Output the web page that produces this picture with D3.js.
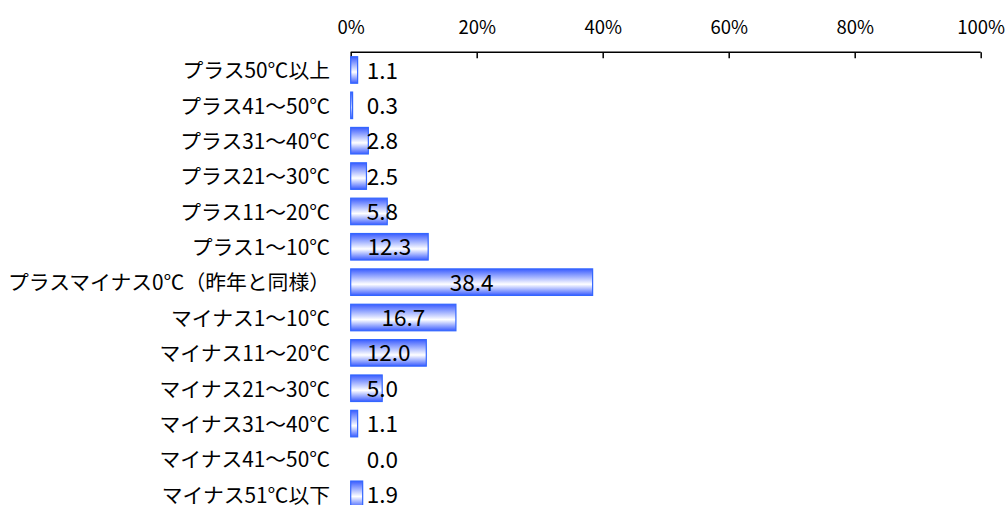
<!DOCTYPE html>
<html><head><meta charset="utf-8">
<script src="https://cdn.jsdelivr.net/npm/d3@7"></script>
<style>
html,body{margin:0;padding:0;background:#fff;overflow:hidden;}
text{font-family:"Noto Sans CJK JP","Noto Sans",sans-serif;fill:#000;}
</style></head>
<body><svg id="chart" width="1006" height="505"></svg>
<script>
const categories = ["プラス50℃以上","プラス41～50℃","プラス31～40℃","プラス21～30℃","プラス11～20℃","プラス1～10℃","プラスマイナス0℃（昨年と同様）","マイナス1～10℃","マイナス11～20℃","マイナス21～30℃","マイナス31～40℃","マイナス41～50℃","マイナス51℃以下"];
const values = [1.1,0.3,2.8,2.5,5.8,12.3,38.4,16.7,12.0,5.0,1.1,0.0,1.9];
const tickValues = [0,20,40,60,80,100];

(function(){
const svg = d3.select("#chart");
const pLeft = 350.7, pRight = 980.7, pTop = 52.3, pBottom = 512;
const x = d3.scaleLinear().domain([0,100]).range([pLeft,pRight]);
const y = d3.scaleBand().domain(categories).range([pTop,pBottom]).paddingInner(0.25).paddingOuter(0.125);

const defs = svg.append("defs");
const g = defs.append("linearGradient").attr("id","barGrad").attr("x1",0).attr("y1",0).attr("x2",0).attr("y2",1);
g.append("stop").attr("offset","0%").attr("stop-color","#3a5cff");
g.append("stop").attr("offset","58%").attr("stop-color","#ffffff");
g.append("stop").attr("offset","100%").attr("stop-color","#3a5cff");

// axis
const axis = d3.axisTop(x).tickValues(tickValues).tickFormat(d=>d+"%").tickSize(-6).tickPadding(0);
const ax = svg.append("g").attr("transform",`translate(0,${pTop})`).call(axis);
ax.select(".domain").attr("stroke","#000").attr("stroke-width",1.5).attr("d",`M${pLeft},0H${pRight}`);
ax.selectAll(".tick line").attr("stroke","#000").attr("stroke-width",1.5);
ax.selectAll(".tick text").attr("y",-25).attr("dy","0.35em").style("font-size","18.5px").style("font-family",'"Noto Sans CJK JP","Noto Sans",sans-serif').attr("fill","#000");

// bars
svg.append("g").selectAll("rect").data(values).join("rect")
  .attr("x",x(0))
  .attr("y",(d,i)=>y(categories[i]))
  .attr("width",d=>Math.max(0,x(d)-x(0)))
  .attr("height",y.bandwidth())
  .attr("fill","url(#barGrad)")
  .attr("stroke",d=>d>0?"#3366ff":"none")
  .attr("stroke-width",1.2);

// category labels
svg.append("g").selectAll("text").data(categories).join("text")
  .attr("x",330).attr("y",d=>y(d)+y.bandwidth()/2)
  .attr("text-anchor","end").attr("dy","0.4em")
  .style("font-size","20.8px").text(d=>d);

// value labels
svg.append("g").selectAll("text").data(values).join("text")
  .attr("y",(d,i)=>y(categories[i])+y.bandwidth()/2)
  .attr("dy","0.38em").style("font-size","22.5px")
  .text(d=>d.toFixed(1))
  .each(function(d){
    const w=this.getComputedTextLength();
    const c=(x(0)+x(d))/2;
    d3.select(this).attr("x",Math.max(c-w/2,x(0)+16));
  });
})();
</script></body></html>
